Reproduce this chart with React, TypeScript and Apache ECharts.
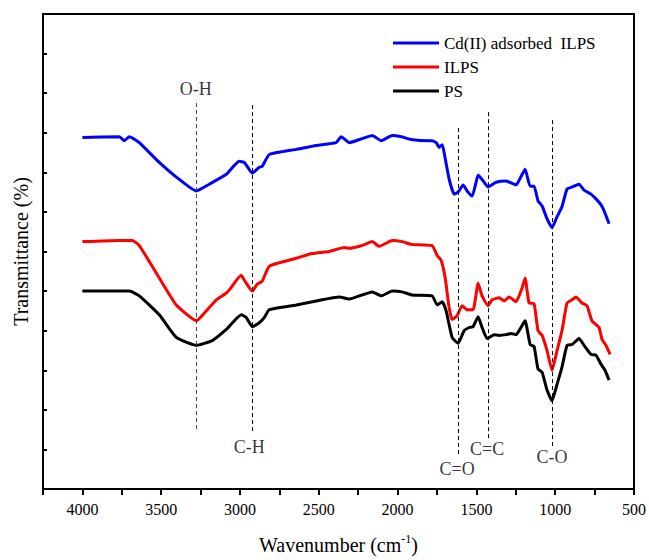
import React, { useEffect, useRef } from "react";
import * as echarts from "echarts";

const cdWave = [4000, 3765, 3734, 3702, 3639, 3512, 3404, 3277, 3195, 3087, 3005, 2973, 2922, 2878, 2859, 2814, 2643, 2516, 2390, 2358, 2307, 2225, 2161, 2104, 2034, 1977, 1914, 1800, 1781, 1755, 1736, 1717, 1705, 1673, 1641, 1616, 1584, 1559, 1527, 1502, 1489, 1451, 1426, 1375, 1312, 1248, 1216, 1191, 1159, 1134, 1109, 1083, 1052, 1020, 988, 957, 925, 893, 849, 817, 773, 741, 709, 690, 658];
const cdValues = [8.88, 8.9, 8.8, 8.9, 8.75, 8.25, 7.88, 7.53, 7.7, 7.95, 8.28, 8.25, 7.98, 8.13, 8.15, 8.45, 8.58, 8.68, 8.75, 8.9, 8.75, 8.85, 8.93, 8.8, 8.93, 8.9, 8.83, 8.8, 8.8, 8.75, 8.63, 8.7, 8.5, 7.83, 7.45, 7.5, 7.68, 7.53, 7.4, 7.75, 7.93, 7.75, 7.63, 7.75, 7.78, 7.68, 7.9, 8.08, 7.65, 7.65, 7.28, 7.15, 6.83, 6.6, 6.88, 7.13, 7.58, 7.63, 7.7, 7.55, 7.45, 7.33, 7.18, 7.03, 6.7];

const ilpsWave = [4000, 3765, 3683, 3639, 3512, 3404, 3277, 3214, 3150, 3087, 3068, 2992, 2973, 2922, 2890, 2859, 2814, 2643, 2542, 2434, 2339, 2307, 2225, 2161, 2117, 2034, 1971, 1914, 1781, 1749, 1724, 1698, 1673, 1654, 1622, 1591, 1559, 1521, 1489, 1464, 1426, 1400, 1356, 1324, 1293, 1248, 1210, 1191, 1166, 1134, 1109, 1083, 1052, 1020, 988, 957, 925, 893, 868, 830, 798, 767, 722, 703, 678, 652];
const ilpsValues = [6.25, 6.28, 6.28, 6.15, 5.33, 4.65, 4.25, 4.5, 4.78, 4.95, 5.03, 5.4, 5.28, 5.0, 5.18, 5.25, 5.63, 5.83, 5.95, 6.0, 6.1, 6.08, 6.15, 6.25, 6.13, 6.28, 6.25, 6.18, 6.15, 5.9, 5.78, 5.33, 4.58, 4.28, 4.38, 4.63, 4.53, 4.53, 5.2, 4.88, 4.63, 4.78, 4.83, 4.75, 4.85, 4.73, 5.08, 5.33, 4.7, 4.68, 4.0, 3.88, 3.5, 3.0, 3.5, 4.0, 4.7, 4.78, 4.85, 4.7, 4.63, 4.25, 4.08, 3.78, 3.63, 3.4];

const psWave = [4000, 3702, 3639, 3512, 3404, 3277, 3176, 3087, 2992, 2960, 2922, 2878, 2846, 2814, 2643, 2516, 2370, 2307, 2161, 2104, 2034, 1971, 1908, 1781, 1749, 1717, 1692, 1654, 1616, 1578, 1546, 1521, 1489, 1464, 1432, 1388, 1356, 1312, 1280, 1248, 1210, 1191, 1159, 1134, 1109, 1083, 1052, 1020, 988, 957, 925, 893, 849, 817, 773, 741, 709, 684, 658];
const psValues = [5.0, 5.0, 4.88, 4.4, 3.83, 3.63, 3.75, 4.03, 4.4, 4.33, 4.1, 4.2, 4.33, 4.53, 4.65, 4.75, 4.85, 4.8, 4.98, 4.88, 5.0, 4.98, 4.9, 4.88, 4.65, 4.73, 4.5, 3.83, 3.68, 4.0, 4.08, 4.1, 4.35, 4.08, 3.8, 3.9, 3.88, 3.9, 3.93, 3.9, 4.13, 4.25, 3.65, 3.6, 3.03, 2.95, 2.5, 2.23, 2.65, 3.08, 3.63, 3.65, 3.8, 3.63, 3.4, 3.38, 3.15, 3.0, 2.75];

const seriesNames = ["Cd(II) adsorbed  ILPS", "ILPS", "PS"];
const seriesColors = ["#0000ff", "#ff0000", "#000000"];

// Peak guide lines: wavenumber, top value, bottom value
const peakNames = ["O-H", "C-H", "C=O", "C=C", "C-O"];
const peakWave = [3280, 2922, 1616, 1426, 1020];
const peakTop = [9.75, 9.7, 9.12, 9.52, 9.32];
const peakBottom = [1.5, 1.45, 0.88, 1.28, 1.08];
const peakLabelWave = [3280, 2941, 1622, 1432, 1020];
const peakLabelValue = [10.1, 1.07, 0.5, 1.0, 0.8];

const FONT = "Liberation Serif";

function pairs(w: number[], v: number[]) {
  return w.map((x, i) => [x, v[i]]);
}

export default function App() {
  const ref = useRef<HTMLDivElement>(null);
  useEffect(() => {
    document.body.style.margin = "0";
    if (!ref.current) return;
    const chart = echarts.init(ref.current, undefined, { renderer: "svg" });
    const dataSets = [pairs(cdWave, cdValues), pairs(ilpsWave, ilpsValues), pairs(psWave, psValues)];
    const lineSeries: any[] = dataSets.map((d, i) => ({
      name: seriesNames[i],
      type: "line",
      data: d,
      showSymbol: false,
      symbol: "none",
      smooth: 0.15,
      lineStyle: { color: seriesColors[i], width: 3 },
      itemStyle: { color: seriesColors[i] },
      z: 3,
    }));
    lineSeries.push({
      name: "guides",
      type: "line",
      data: [],
      silent: true,
      markLine: {
        silent: true,
        symbol: ["none", "none"],
        label: { show: false },
        data: peakWave.map((w, i) => [
          {
            coord: [w, peakTop[i]],
            lineStyle: { color: i === 0 ? "#444" : "#000", type: [4, 3], width: 1 },
          },
          { coord: [w, peakBottom[i]] },
        ]),
      },
    });
    lineSeries.push({
      name: "labels",
      type: "scatter",
      symbolSize: 0,
      silent: true,
      data: peakLabelWave.map((w, i) => ({ value: [w, peakLabelValue[i]], name: peakNames[i] })),
      label: {
        show: true,
        position: "inside",
        formatter: (p: any) => p.name,
        fontFamily: FONT,
        fontSize: 18,
        color: "#000",
      },
    });

    chart.setOption({
      animation: false,
      backgroundColor: "#ffffff",
      textStyle: { fontFamily: FONT },
      grid: {
        left: 43,
        right: 14,
        top: 14,
        bottom: 66,
        show: true,
        borderColor: "#000",
        borderWidth: 2,
        containLabel: false,
      },
      legend: {
        data: seriesNames,
        orient: "vertical",
        left: 388,
        top: 29,
        itemWidth: 46,
        itemHeight: 3,
        itemGap: 6,
        icon: "rect",
        textStyle: { fontFamily: FONT, fontSize: 17, color: "#000", lineHeight: 18 },
      },
      xAxis: {
        type: "value",
        min: 500,
        max: 4250,
        interval: 250,
        inverse: true,
        name: "{a|Wavenumber (cm}{s|-1}{a|)}",
        nameLocation: "middle",
        nameGap: 44,
        nameTextStyle: {
          rich: {
            a: { fontFamily: FONT, fontSize: 20, color: "#000", verticalAlign: "bottom" },
            s: { fontFamily: FONT, fontSize: 12, color: "#000", verticalAlign: "top", padding: [0, 0, 10, 0] },
          },
        },
        axisLine: { show: true, lineStyle: { color: "#000", width: 2 } },
        axisTick: { show: true, inside: false, length: 6, lineStyle: { color: "#000", width: 2 } },
        axisLabel: {
          margin: 12,
          fontFamily: FONT,
          fontSize: 16,
          color: "#000",
          formatter: (v: number) => (v % 500 === 0 ? String(v) : ""),
        },
        splitLine: { show: false },
      },
      yAxis: {
        type: "value",
        min: 0,
        max: 12,
        interval: 1,
        name: "Transmittance (%)",
        nameLocation: "middle",
        nameGap: 12,
        nameTextStyle: { fontFamily: FONT, fontSize: 20, color: "#000" },
        axisLine: { show: true, lineStyle: { color: "#000", width: 2 } },
        axisTick: { show: true, inside: true, length: 4, lineStyle: { color: "#000", width: 2 } },
        axisLabel: { show: false },
        splitLine: { show: false },
      },
      series: lineSeries,
    });
    return () => chart.dispose();
  }, []);
  return <div ref={ref} style={{ width: 649, height: 560 }} />;
}
